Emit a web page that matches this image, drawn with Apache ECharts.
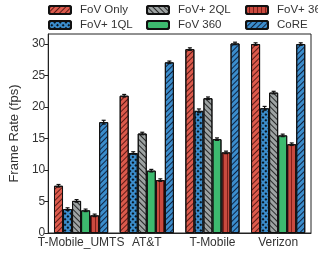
<!DOCTYPE html>
<html><head><meta charset="utf-8">
<script src="https://cdn.jsdelivr.net/npm/echarts@6/dist/echarts.min.js"></script>
<style>html,body{margin:0;padding:0;background:#fff}#c{width:318px;height:257px}</style>
</head><body><div id="c"></div>
<script>
const categories = ['T-Mobile_UMTS', 'AT&T', 'T-Mobile', 'Verizon'];
const seriesNames = ['FoV Only', 'FoV+ 1QL', 'FoV+ 2QL', 'FoV 360', 'FoV+ 360', 'CoRE'];
const fovOnly = [7.5, 21.8, 29.2, 30.0];
const fov1QL = [3.8, 12.7, 19.4, 19.8];
const fov2QL = [5.1, 15.8, 21.4, 22.3];
const fov360 = [3.6, 9.9, 14.9, 15.5];
const fovPlus360 = [2.8, 8.4, 12.8, 14.1];
const core = [17.6, 27.1, 30.1, 30.0];
const errFovOnly = [0.2, 0.2, 0.2, 0.2];
const err1QL = [0.2, 0.2, 0.3, 0.3];
const err2QL = [0.2, 0.2, 0.2, 0.2];
const err360 = [0.2, 0.2, 0.2, 0.2];
const errPlus360 = [0.2, 0.2, 0.2, 0.2];
const errCore = [0.3, 0.2, 0.2, 0.2];
const yTicks = [0, 5, 10, 15, 20, 25, 30];

const values = [fovOnly, fov1QL, fov2QL, fov360, fovPlus360, core];
const errs = [errFovOnly, err1QL, err2QL, err360, errPlus360, errCore];
const colors = ['#dc5a4c', '#3b8dcc', '#9ea3a3', '#3dba6f', '#c94a3f', '#3b8dcc'];
const stripe = (rot, c) => ({symbol: 'rect', symbolSize: 1, dashArrayX: [1, 0], dashArrayY: [1, 2.5], rotation: rot, color: c});
const decals = [
  stripe(-Math.PI / 4, 'rgba(40,0,0,0.7)'),
  {symbol: 'rect', symbolSize: 1, dashArrayX: [2, 2], dashArrayY: [2, 2], rotation: Math.PI / 4, color: 'rgba(0,0,0,0.85)'},
  stripe(Math.PI / 4, 'rgba(0,0,0,0.75)'),
  {symbol: 'none'},
  stripe(Math.PI / 2, 'rgba(80,0,0,0.6)'),
  stripe(-Math.PI / 4, 'rgba(0,0,20,0.75)')
];
const FONT = 'Liberation Sans';
const gapFrac = 0.175;

const series = [];
seriesNames.forEach((n, i) => {
  series.push({
    name: n, type: 'bar', data: values[i], barGap: '0%', barCategoryGap: (gapFrac * 100) + '%',
    itemStyle: {color: colors[i], borderColor: '#111', borderWidth: 1, decal: decals[i]},
    emphasis: {disabled: true}, animation: false
  });
});
const errData = [];
values.forEach((arr, s) => arr.forEach((v, c) => errData.push([c, s, v, errs[s][c]])));
series.push({
  type: 'custom', silent: true, animation: false, z: 10,
  encode: {x: 0, y: 2},
  data: errData,
  renderItem: (params, api) => {
    const c = api.value(0), s = api.value(1), v = api.value(2), e = api.value(3);
    const band = api.size([1, 0])[0];
    const bw = band * (1 - gapFrac) / 6;
    const cx = api.coord([c, v])[0] + (s - 2.5) * bw;
    const y1 = api.coord([c, v - e])[1], y2 = api.coord([c, v + e])[1];
    const st = {stroke: '#111', lineWidth: 1.2};
    return {type: 'group', children: [
      {type: 'line', shape: {x1: cx, y1: y1, x2: cx, y2: y2}, style: st},
      {type: 'line', shape: {x1: cx - 2, y1: y1, x2: cx + 2, y2: y1}, style: st},
      {type: 'line', shape: {x1: cx - 2, y1: y2, x2: cx + 2, y2: y2}, style: st}
    ]};
  }
});

const legendBase = {orient: 'vertical', top: 4, itemWidth: 22, itemHeight: 8, itemGap: 3, padding: 0,
  textStyle: {fontFamily: FONT, fontSize: 11.5, color: '#333', padding: [0, 0, 0, 4]}, selectedMode: false};
const chart = echarts.init(document.getElementById('c'), null, {renderer: 'canvas'});
chart.setOption({
  backgroundColor: '#fff',
  animation: false,
  legend: [
    Object.assign({left: 48, data: [seriesNames[0], seriesNames[1]]}, legendBase),
    Object.assign({left: 146, data: [seriesNames[2], seriesNames[3]]}, legendBase),
    Object.assign({left: 245, data: [seriesNames[4], seriesNames[5]]}, legendBase)
  ],
  grid: {left: 44, right: 7, top: 34, bottom: 24, show: true, borderColor: '#222', borderWidth: 1},
  xAxis: {type: 'category', data: categories,
    axisLine: {lineStyle: {color: '#222'}},
    axisTick: {alignWithLabel: true, length: 5, lineStyle: {color: '#222'}},
    axisLabel: {fontFamily: FONT, fontSize: 12, color: '#333', margin: 4, interval: 0}},
  yAxis: {type: 'value', min: 0, max: 31.6, interval: 5,
    name: 'Frame Rate (fps)', nameLocation: 'middle', nameGap: 26,
    nameTextStyle: {fontFamily: FONT, fontSize: 13, color: '#333'},
    splitLine: {show: false},
    axisLine: {show: true, lineStyle: {color: '#222'}},
    axisTick: {show: true, length: 4, customValues: yTicks, lineStyle: {color: '#222'}},
    axisLabel: {fontFamily: FONT, fontSize: 12, color: '#333', margin: 3, customValues: yTicks}},
  series: series
});
</script></body></html>
